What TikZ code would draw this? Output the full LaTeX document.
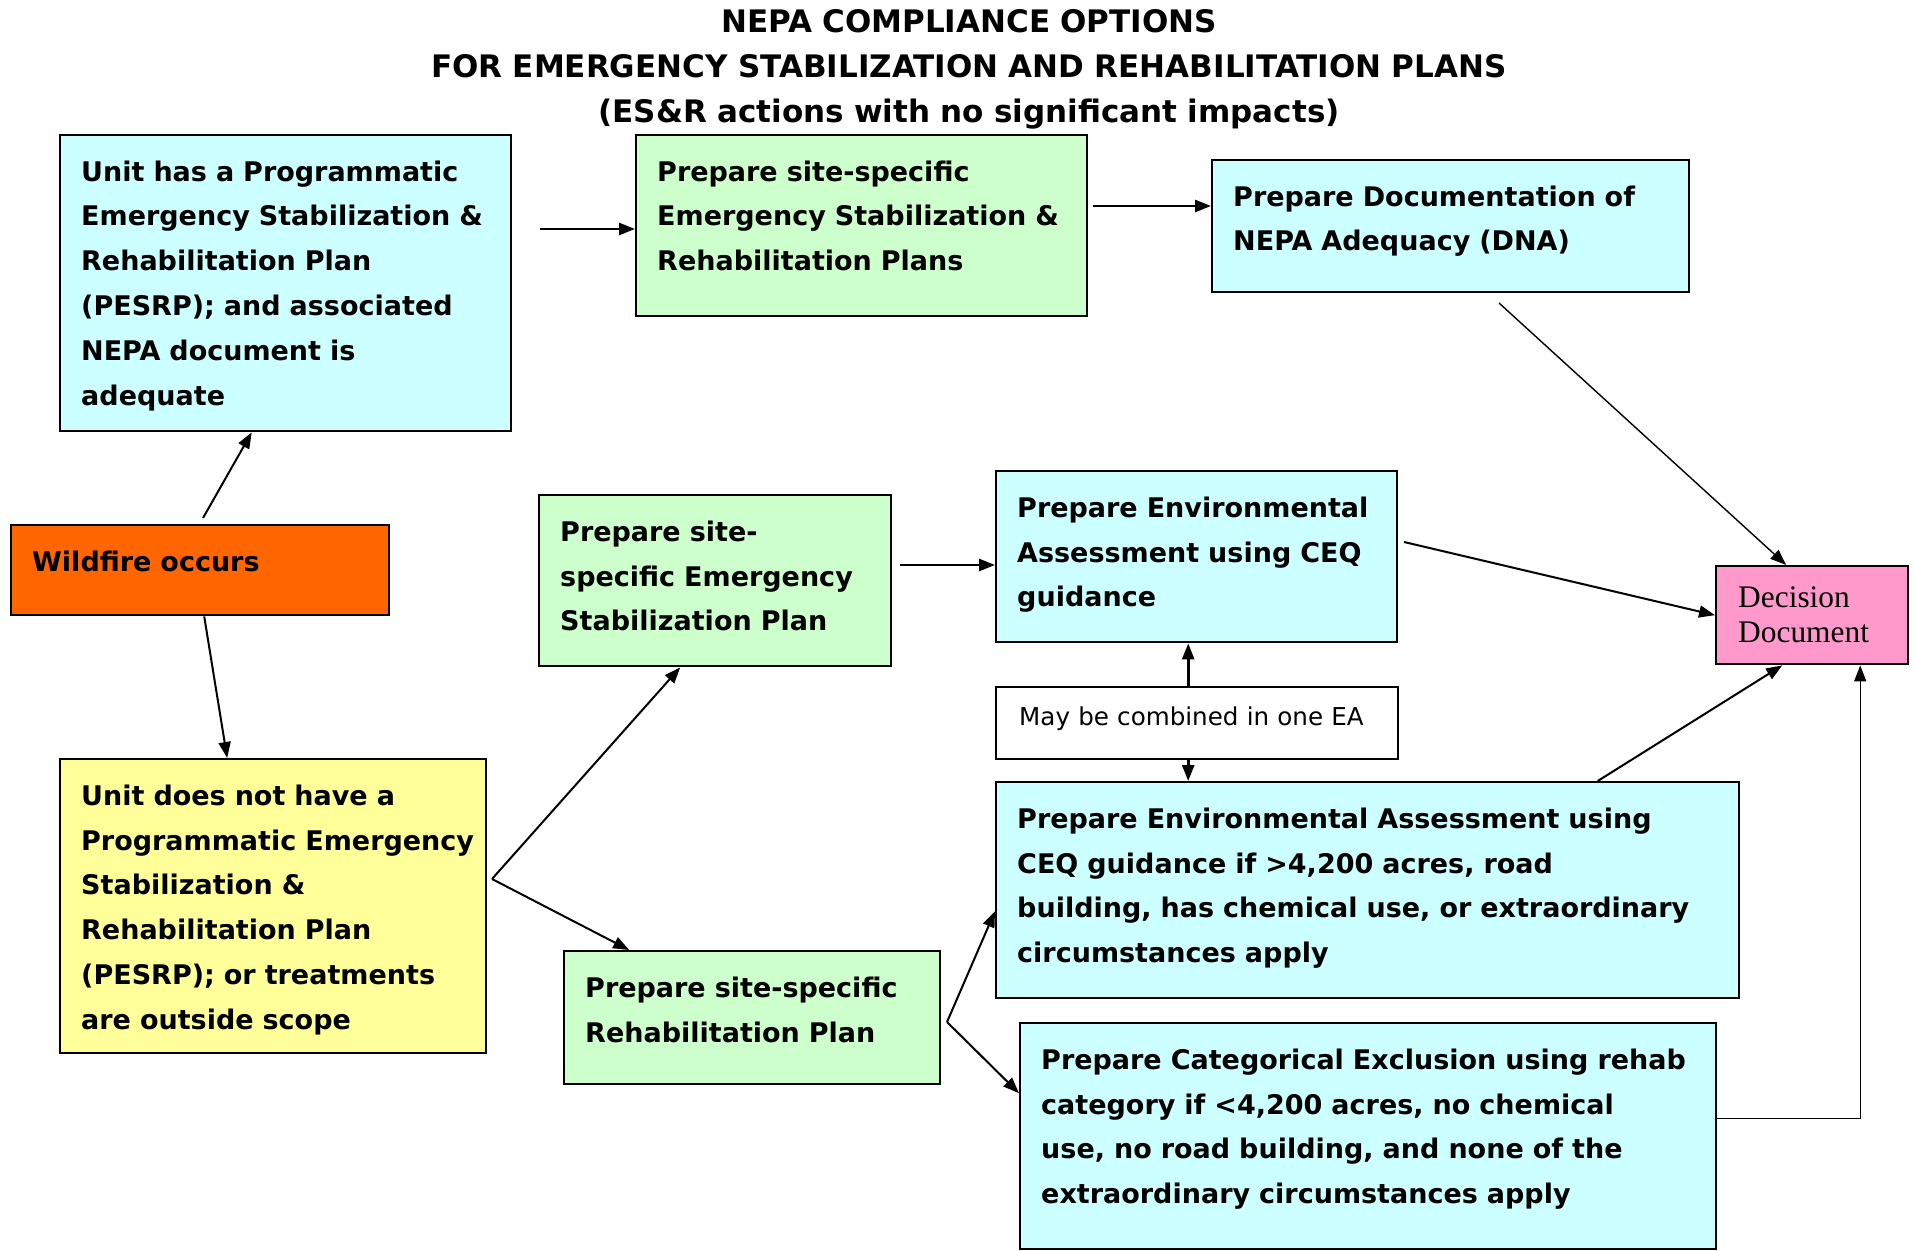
\documentclass[tikz,border=0pt]{standalone}
\usepackage{fontspec}
\setmainfont{DejaVu Sans}
\newfontfamily\decfont{Liberation Serif}
\usetikzlibrary{arrows.meta}

\definecolor{esrcyan}{HTML}{CCFFFF}
\definecolor{esrgreen}{HTML}{CCFFCC}
\definecolor{esryellow}{HTML}{FFFF99}
\definecolor{esrorange}{HTML}{FF6600}
\definecolor{esrpink}{HTML}{FF99CC}

\tikzset{
	box/.style={draw=black,line width=1.2pt,anchor=north west,inner xsep=10.5pt,inner ysep=0pt,
		align=left,text height=23pt,font=\bfseries\fontsize{13.5pt}{22.4pt}\selectfont,
		execute at begin node={\hyphenpenalty=10000\exhyphenpenalty=10000}},
	ttl/.style={align=center,inner sep=0pt,text width=700pt,text height=0pt,text depth=0pt,
		font=\bfseries\fontsize{15.5pt}{22.5pt}\selectfont},
	link/.style={->,line width=1.3pt},
	midlink/.style={->,line width=1pt},
	thinlink/.style={->,line width=0.7pt},
}

\begin{document}
\begin{tikzpicture}[>={Triangle[length=8pt,width=6pt]},x=0.5pt,y=-0.5pt]
	\fill[white] (0,0) rectangle (1914,1250);

	% Title
	\node[ttl] (title) at (969,33) {NEPA COMPLIANCE OPTIONS\\FOR EMERGENCY STABILIZATION AND REHABILITATION PLANS\\(ES\&R actions with no significant impacts)};

	% Left column
	\node[box,fill=esrcyan,text width=204.5pt,text depth=125pt] (prog) at (59,134)
		{Unit has a Programmatic\\Emergency Stabilization \&\\Rehabilitation Plan\\(PESRP); and associated\\NEPA document is\\adequate};
	\node[box,fill=esrorange,text width=168pt,text depth=22pt] (fire) at (10,524) {Wildfire occurs};
	\node[box,fill=esryellow,text width=192pt,text depth=124pt] (noprog) at (59,758)
		{Unit does not have a\\\mbox{Programmatic Emergency}\\Stabilization \&\\Rehabilitation Plan\\(PESRP); or treatments\\are outside scope};

	% Site-specific plans
	\node[box,fill=esrgreen,text width=204.5pt,text depth=67.5pt] (siteplans) at (635,134)
		{Prepare site-specific\\Emergency Stabilization \&\\Rehabilitation Plans};
	\node[box,fill=esrgreen,text width=155pt,text depth=62.5pt] (siteesp) at (538,494)
		{Prepare site-\\specific Emergency\\Stabilization Plan};
	\node[box,fill=esrgreen,text width=167pt,text depth=43.5pt] (siterp) at (563,950)
		{Prepare site-specific\\Rehabilitation Plan};

	% NEPA documents
	\node[box,fill=esrcyan,text width=217.5pt,text depth=43pt] (dna) at (1211,159)
		{Prepare Documentation of\\NEPA Adequacy (DNA)};
	\node[box,fill=esrcyan,text width=179.5pt,text depth=62.5pt] (ea) at (995,470)
		{Prepare Environmental\\Assessment using CEQ\\guidance};
	\node[box,fill=white,inner xsep=11.5pt,text width=178pt,text height=19pt,text depth=17pt,
		font=\fontsize{12.3pt}{15pt}\selectfont] (combine) at (995,686) {May be combined in one EA};
	\node[box,fill=esrcyan,text width=350.5pt,text depth=85pt] (eabig) at (995,781)
		{Prepare Environmental Assessment using\\CEQ guidance if >4,200 acres, road\\building, has chemical use, or extraordinary\\circumstances apply};
	\node[box,fill=esrcyan,text width=327pt,text depth=90pt] (catex) at (1019,1022)
		{Prepare Categorical Exclusion using rehab\\category if <4,200 acres, no chemical\\use, no road building, and none of the\\extraordinary circumstances apply};

	% Decision
	\node[box,fill=esrpink,inner xsep=11pt,text width=74pt,text height=20.5pt,text depth=28.5pt,
		font=\decfont\fontsize{15.7pt}{17.5pt}\selectfont] (decision) at (1715,565) {Decision\\Document};

	% Arrows
	\coordinate (a1) at (540,229);
	\draw[link] (a1) -- (a1 -| siteplans.west);
	\coordinate (b1) at (1093,206);
	\draw[link] (b1) -- (b1 -| dna.west);
	\coordinate (c1) at (1499,303);
	\draw[thinlink] (c1) -- ([xshift=-13pt]decision.north);
	\coordinate (w1) at (203,518);
	\draw[midlink] (w1) -- ([xshift=-17pt]prog.south);
	\draw[midlink] ([xshift=2pt]fire.south) -- ([xshift=-23pt]noprog.north);
	\coordinate (d1) at (492,879);
	\draw[midlink] (d1) -- ([xshift=-17.5pt]siteesp.south);
	\draw[midlink] (d1) -- ([xshift=-61.5pt]siterp.north);
	\coordinate (e1) at (900,565);
	\draw[link] (e1) -- (e1 -| ea.west);
	\coordinate (f1) at (1404,542);
	\draw[midlink] (f1) -- (decision.west);
	\draw[link] ([xshift=-4.5pt]combine.north) -- ([xshift=-4.25pt]ea.south);
	\draw[link] ([xshift=-4.5pt]combine.south) -- ([xshift=-89.75pt]eabig.north);
	\draw[midlink] ([xshift=115pt]eabig.north) -- ([xshift=-15pt]decision.south);
	\coordinate (j1) at (947,1022);
	\draw[midlink] (j1) -- ([yshift=-10.5pt]eabig.west);
	\draw[midlink] (j1) -- ([yshift=21.5pt]catex.west);
	\draw[thinlink] ([yshift=9pt]catex.east) -| ([xshift=24pt]decision.south);
\end{tikzpicture}
\end{document}
